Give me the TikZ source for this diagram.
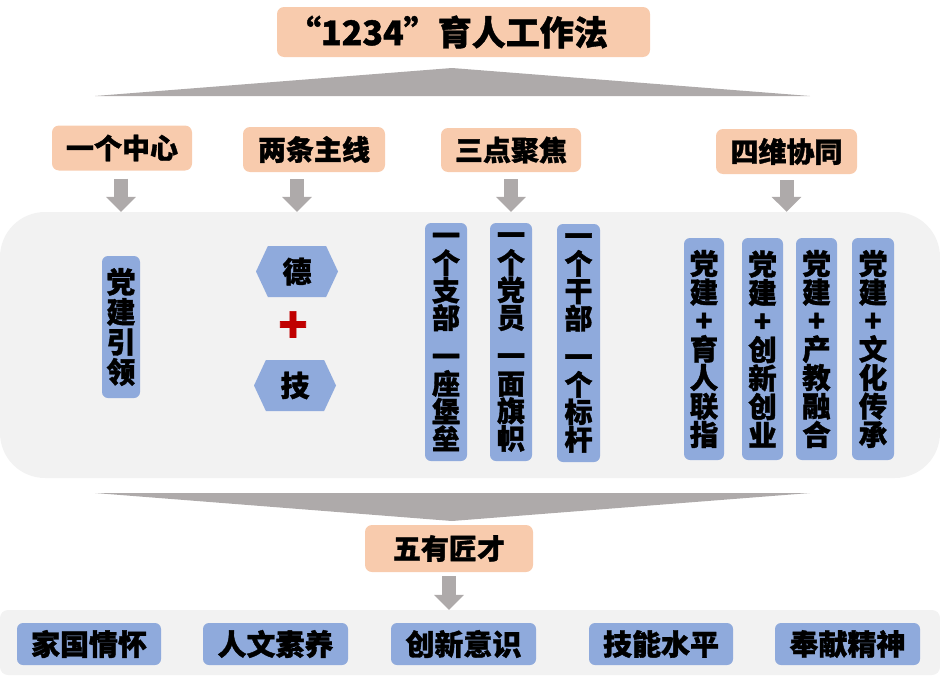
\documentclass[tikz,border=0pt]{standalone}
\usepackage{fontspec}
\setmainfont{Noto Sans CJK SC}[BoldFeatures={FakeBold=1.2}]
\usetikzlibrary{shapes, shapes.symbols, arrows.meta, positioning}
\usepackage{xcolor}
\definecolor{peach}{RGB}{248,203,173}
\definecolor{cornblue}{RGB}{143,170,220}
\definecolor{arrgray}{RGB}{174,170,170}
\definecolor{panelgray}{RGB}{242,242,242}
\definecolor{plusred}{RGB}{192,0,0}
\tikzstyle{garrow} = [line width=14pt, arrgray, -{Triangle[width=29pt,length=15pt]}]

\begin{document}
\begin{tikzpicture}[x=1pt, y=-1pt, font=\bfseries]
        \useasboundingbox (0,0) rectangle (940,680);
        \tikzstyle{hdr}=[rectangle, rounded corners=7pt, fill=peach, minimum width=140pt,
                         minimum height=45pt, inner sep=0pt, font=\bfseries\fontsize{28}{30}\selectfont]
        \tikzstyle{vbox}=[rectangle, rounded corners=6pt, fill=cornblue, minimum width=41pt,
                          inner sep=0pt, align=center, font=\bfseries\fontsize{28.5}{28.5}\selectfont]
        \tikzstyle{hexa}=[signal, signal to=west and east, signal pointer angle=130, fill=cornblue,
                          minimum width=82pt, minimum height=51pt, inner sep=0pt,
                          font=\bfseries\fontsize{29}{30}\selectfont]
        \tikzstyle{quality}=[rectangle, rounded corners=6pt, fill=cornblue, minimum width=145pt,
                             minimum height=42pt, inner sep=0pt, font=\bfseries\fontsize{29}{30}\selectfont]
        % panels
        \node (panel) at (470,345) [rectangle, rounded corners=45pt, fill=panelgray,
                                    minimum width=940pt, minimum height=266pt] {};
        \node (base) at (470,642.5) [rectangle, rounded corners=8pt, fill=panelgray,
                                     minimum width=940pt, minimum height=65pt] {};
        % title and wedges
        \node (title) at (463.5,32) [hdr, minimum width=373pt, minimum height=50pt,
                                     text width=353pt, align=left, inner xsep=10pt,
                                     font=\bfseries\fontsize{34}{36}\selectfont] {“1234”育人工作法};
        \fill[arrgray] (95,96) -- (452,68) -- (810,96) -- cycle;
        \fill[arrgray] (95,493) -- (810,493) -- (452,521) -- cycle;
        % four headers
        \node (h1) at (122,148) [hdr] {一个中心};
        \node (h2) at (314,149.5) [hdr, minimum width=142pt] {两条主线};
        \node (h3) at (511,150) [hdr, minimum height=44pt] {三点聚焦};
        \node (h4) at (786.5,151.5) [hdr, minimum width=141pt] {四维协同};
        % contents
        \node (lead) at (121,327) [vbox, minimum width=38pt, minimum height=142pt,
                                   font=\bfseries\fontsize{29}{30}\selectfont] {党\\建\\引\\领};
        \node (de) at (297,271.5) [hexa] {德};
        \node (plus) at (293,327) [text=plusred, font=\bfseries\fontsize{48}{48}\selectfont] {+};
        \node (ji) at (295,385.5) [hexa] {技};
        \node (z1) at (446,342) [vbox, minimum width=42pt, minimum height=238pt,
                                 font=\bfseries\fontsize{28}{27.5}\selectfont] {一\\个\\支\\部\\[11pt]一\\座\\堡\\垒};
        \node (z2) at (511,342) [vbox, minimum width=42pt, minimum height=238pt,
                                 font=\bfseries\fontsize{28}{27.5}\selectfont] {一\\个\\党\\员\\[11pt]一\\面\\旗\\帜};
        \node (z3) at (578.5,343) [vbox, minimum width=43pt, minimum height=238pt,
                                   font=\bfseries\fontsize{28}{27.5}\selectfont] {一\\个\\干\\部\\[11pt]一\\个\\标\\杆};
        \node (s1) at (704,349) [vbox, minimum width=40pt, minimum height=222pt] {党\\建\\+\\育\\人\\联\\指};
        \node (s2) at (762.5,349) [vbox, minimum height=222pt] {党\\建\\+\\创\\新\\创\\业};
        \node (s3) at (816.5,349) [vbox, minimum height=222pt] {党\\建\\+\\产\\教\\融\\合};
        \node (s4) at (873,349) [vbox, minimum width=42pt, minimum height=222pt] {党\\建\\+\\文\\化\\传\\承};
        % outcome
        \node (wu) at (449,548.5) [hdr, minimum width=168pt, minimum height=47pt] {五有匠才};
        \node (b1) at (89,644) [quality, minimum width=144pt] {家国情怀};
        \node (b2) at (275.5,644) [quality] {人文素养};
        \node (b3) at (463.5,644) [quality] {创新意识};
        \node (b4) at (661,644) [quality, minimum width=144pt] {技能水平};
        \node (b5) at (847.5,644) [quality] {奉献精神};
        % arrows
        \draw[garrow] ([yshift=-8pt]lead |- h1.south) -- (lead |- panel.north);
        \draw[garrow] ([yshift=-7pt]de |- h2.south) -- (de |- panel.north);
        \draw[garrow] ([yshift=-7pt]z2 |- h3.south) -- (z2 |- panel.north);
        \draw[garrow] ([yshift=-6pt]h4.south) -- (h4.south |- panel.north);
        \draw[garrow] ([yshift=-4pt]wu.south) -- (wu.south |- base.north);
    \end{tikzpicture}
\end{document}
